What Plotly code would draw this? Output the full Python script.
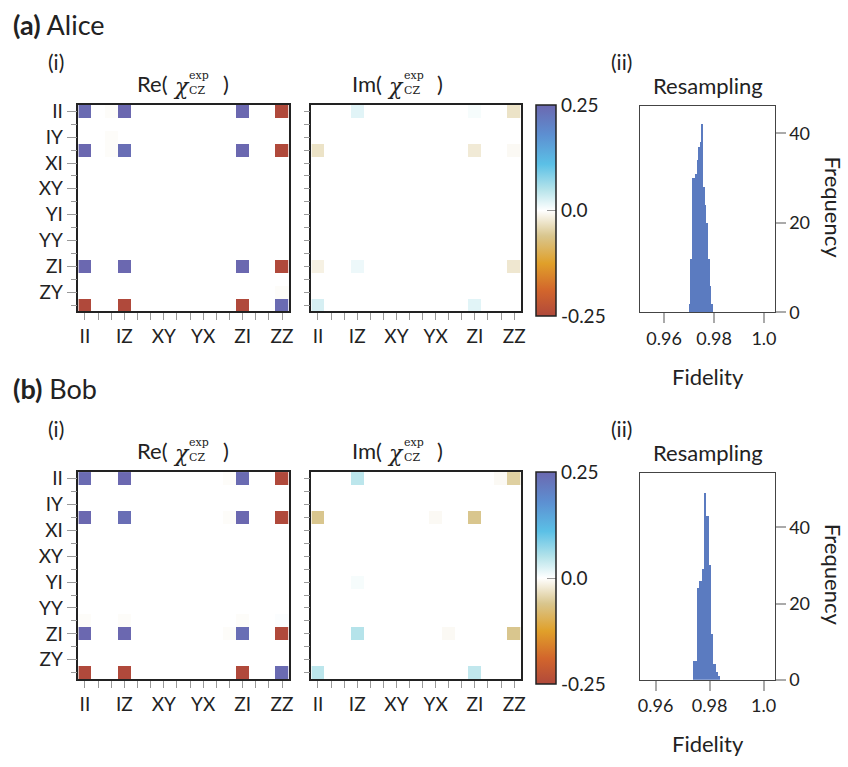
import plotly.graph_objects as go

W, H = 848, 767
FONT = "Lato"
SERIF = "DejaVu Serif"

# ---------------- data ----------------
PAULIS = ["II", "IX", "IY", "IZ", "XI", "XX", "XY", "XZ",
          "YI", "YX", "YY", "YZ", "ZI", "ZX", "ZY", "ZZ"]
X_TICK_IDX = [0, 3, 6, 9, 12, 15]
Y_TICK_IDX = [0, 2, 4, 6, 8, 10, 12, 14]

# significant chi-matrix entries (row, col, value)
ALICE_RE = [(0, 0, 0.245), (0, 3, 0.25), (0, 12, 0.25), (0, 15, -0.25),
            (3, 0, 0.25), (3, 3, 0.24), (3, 12, 0.25), (3, 15, -0.25),
            (12, 0, 0.25), (12, 3, 0.25), (12, 12, 0.25), (12, 15, -0.25),
            (15, 0, -0.25), (15, 3, -0.25), (15, 12, -0.25), (15, 15, 0.245),
            (2, 2, -0.003), (0, 2, -0.003), (3, 2, -0.003), (14, 15, -0.003)]
ALICE_IM = [(0, 3, 0.02), (0, 15, -0.03), (3, 0, -0.03), (3, 12, -0.022),
            (12, 0, -0.015), (12, 3, 0.012), (12, 15, -0.025),
            (15, 0, 0.028), (15, 12, 0.02), (0, 12, 0.006), (3, 15, -0.006)]
BOB_RE = [(0, 0, 0.245), (0, 3, 0.25), (0, 12, 0.245), (0, 15, -0.25),
          (3, 0, 0.25), (3, 3, 0.24), (3, 12, 0.25), (3, 15, -0.25),
          (12, 0, 0.25), (12, 3, 0.25), (12, 12, 0.24), (12, 15, -0.25),
          (15, 0, -0.25), (15, 3, -0.25), (15, 12, -0.25), (15, 15, 0.245),
          (11, 0, -0.003), (11, 3, -0.003), (11, 12, -0.003), (11, 15, 0.003),
          (0, 11, -0.003), (3, 11, -0.003), (12, 11, -0.003)]
BOB_IM = [(0, 3, 0.045), (0, 15, -0.05), (3, 0, -0.06), (3, 12, -0.06),
          (12, 3, 0.05), (12, 15, -0.06), (15, 0, 0.045), (15, 12, 0.042),
          (8, 3, 0.006), (3, 9, -0.006), (0, 14, -0.006), (12, 10, -0.006)]

# resampling histograms
ALICE_BIN_START = 0.96988
ALICE_BIN_WIDTH = 0.000633
ALICE_COUNTS = [2, 12, 30, 30, 31, 34, 37, 38, 42, 28, 24, 20, 12, 6, 2]
BOB_BIN_START = 0.97358
BOB_BIN_WIDTH = 0.00085
BOB_COUNTS = [5, 5, 24, 26, 29, 49, 43, 30, 12, 4, 2, 1]

FID_TICKS = [0.96, 0.98, 1.0]
FID_TICKTEXT = ["0.96", "0.98", "1.0"]
FREQ_TICKS = [0, 20, 40]
CB_TICKS = [-0.25, 0.0, 0.25]
CB_TICKTEXT = ["-0.25", "0.0", "0.25"]

COLORSCALE = [[0.0, "#b0493b"], [0.12, "#d2652c"], [0.25, "#e0a02a"],
              [0.38, "#d9c68e"], [0.5, "#ffffff"], [0.6, "#b5e3ea"],
              [0.72, "#5bc0e6"], [0.86, "#5d8fd1"], [1.0, "#6b68b0"]]
BAR_COLOR = "#5b7bc0"

TICK_SIZE = 19
LABEL_SIZE = 22


def build(entries):
    m = [[0.0] * 16 for _ in range(16)]
    for r, c, v in entries:
        m[r][c] = v
    return m


def X(px):
    return px / W


def Y(py):
    return 1 - py / H


def ann(text, px, py, size, xanchor="left", family=FONT, **kw):
    return dict(text=text, x=X(px), y=Y(py), xref="paper", yref="paper",
                xanchor=xanchor, yanchor="middle", showarrow=False,
                font=dict(family=family, size=size, color="#222"), **kw)


fig = go.Figure()

rows = [
    dict(name="Alice", tag="(a)", re=ALICE_RE, im=ALICE_IM, top=101, bot=312,
         hist_top=102, hist_bot=313, start=ALICE_BIN_START, width=ALICE_BIN_WIDTH,
         counts=ALICE_COUNTS, frange=[0.9502, 1.00425], yrange=[0, 46.1], off=0),
    dict(name="Bob", tag="(b)", re=BOB_RE, im=BOB_IM, top=476, bot=687.5,
         hist_top=477, hist_bot=688, start=BOB_BIN_START, width=BOB_BIN_WIDTH,
         counts=BOB_COUNTS, frange=[0.95413, 1.00404], yrange=[0, 54.3], off=375),
]

annotations = []
layout_axes = {}
ax_i = 0
RE_X = (77, 289)
IM_X = (312, 523)
CB_X = 538
HIST_X = (643, 779)

for ri, row in enumerate(rows):
    ydom = [Y(row["bot"]), Y(row["top"])]
    for kind, xr, ent in (("Re", RE_X, row["re"]), ("Im", IM_X, row["im"])):
        ax_i += 1
        xa = "x" if ax_i == 1 else f"x{ax_i}"
        ya = "y" if ax_i == 1 else f"y{ax_i}"
        show = kind == "Im"
        hm = go.Heatmap(
            z=build(ent), x=list(range(16)), y=list(range(16)),
            colorscale=COLORSCALE, zmin=-0.25, zmax=0.25, xaxis=xa, yaxis=ya,
            showscale=show, xgap=0, ygap=0,
        )
        if show:
            hm.colorbar = dict(
                x=X(CB_X), xanchor="left", xpad=0, ypad=0,
                y=Y(row["top"]), yanchor="top", lenmode="pixels",
                len=row["bot"] - row["top"], thickness=20,
                outlinewidth=1.5, outlinecolor="#222",
                tickvals=CB_TICKS, ticktext=CB_TICKTEXT, ticks="inside",
                ticklen=9, tickcolor="#999", tickwidth=1,
                tickfont=dict(family=FONT, size=TICK_SIZE, color="#222"),
            )
        fig.add_trace(hm)
        kx = "xaxis" if ax_i == 1 else f"xaxis{ax_i}"
        ky = "yaxis" if ax_i == 1 else f"yaxis{ax_i}"
        layout_axes[kx] = dict(
            domain=[X(xr[0]), X(xr[1])], anchor=ya, range=[-0.5, 15.5],
            showline=True, mirror=True, linecolor="#222", linewidth=1.5,
            showgrid=False, zeroline=False,
            tickvals=X_TICK_IDX, ticktext=[PAULIS[i] for i in X_TICK_IDX],
            ticks="outside", ticklen=7, tickcolor="#999", tickwidth=1,
            tickfont=dict(family=FONT, size=TICK_SIZE, color="#222"),
            minor=dict(tickvals=list(range(16)), ticks="outside", ticklen=7,
                       tickcolor="#999", tickwidth=1),
        )
        layout_axes[ky] = dict(
            domain=ydom, anchor=xa, range=[15.5, -0.5],
            showline=True, mirror=True, linecolor="#222", linewidth=1.5,
            showgrid=False, zeroline=False,
            tickvals=Y_TICK_IDX,
            ticktext=[PAULIS[i] for i in Y_TICK_IDX] if kind == "Re" else [""] * len(Y_TICK_IDX),
            ticks="outside", ticklen=10, tickcolor="#999", tickwidth=1,
            tickfont=dict(family=FONT, size=TICK_SIZE, color="#222"),
            minor=dict(tickvals=list(range(16)), ticks="outside", ticklen=6,
                       tickcolor="#999", tickwidth=1),
        )
        # title pieces
        pend = 169 if kind == "Re" else 385
        ty = 79 + row["off"]
        annotations += [
            ann(f"{kind}(", pend, ty, LABEL_SIZE, xanchor="right"),
            ann("<i>χ</i>", pend + 1, ty + 3, 22, family=SERIF),
            ann("exp", pend + 18, ty - 8, 11, family=SERIF),
            ann("CZ", pend + 18, ty + 7, 11, family=SERIF),
            ann(")", pend + 52, ty, LABEL_SIZE),
        ]

    # histogram
    ax_i += 1
    xa, ya = f"x{ax_i}", f"y{ax_i}"
    centers = [row["start"] + (k + 0.5) * row["width"] for k in range(len(row["counts"]))]
    fig.add_trace(go.Bar(x=centers, y=row["counts"], width=row["width"],
                         marker=dict(color=BAR_COLOR, line=dict(width=0)),
                         xaxis=xa, yaxis=ya, showlegend=False))
    layout_axes[f"xaxis{ax_i}"] = dict(
        domain=[X(HIST_X[0]), X(HIST_X[1])], anchor=ya, range=row["frange"],
        showline=True, mirror=True, linecolor="#444", linewidth=1,
        showgrid=False, zeroline=False,
        tickvals=FID_TICKS, ticktext=FID_TICKTEXT, ticks="outside", ticklen=10,
        tickcolor="#aaa", tickwidth=1.5,
        tickfont=dict(family=FONT, size=18, color="#222"),
    )
    layout_axes[f"yaxis{ax_i}"] = dict(
        domain=[Y(row["hist_bot"]), Y(row["hist_top"])], anchor=xa,
        range=row["yrange"], side="right",
        showline=True, mirror=True, linecolor="#444", linewidth=1,
        showgrid=False, zeroline=False,
        tickvals=FREQ_TICKS, ticks="outside", ticklen=10,
        tickcolor="#aaa", tickwidth=1.5,
        tickfont=dict(family=FONT, size=18, color="#222"),
    )

    off = row["off"]
    hoff = row["hist_top"] - 102
    annotations += [
        ann(f"<b>{row['tag']}</b> {row['name']}", 9, 19 + off - (3 if ri else 0), 27),
        ann("(i)", 44, 57 + off, 21),
        ann("(ii)", 612, 57 + off, 21),
        ann("Resampling", 712, 81 + hoff, LABEL_SIZE, xanchor="center"),
        ann("Frequency", 838, 206 + hoff, LABEL_SIZE, xanchor="center", textangle=90),
        ann("Fidelity", 712, 378 + hoff, LABEL_SIZE, xanchor="center"),
    ]

fig.update_layout(
    width=W, height=H, margin=dict(l=0, r=0, t=0, b=0),
    paper_bgcolor="white", plot_bgcolor="white",
    showlegend=False, annotations=annotations, bargap=0,
    font=dict(family=FONT, color="#222"),
    **layout_axes,
)

fig.write_html("out.html")
